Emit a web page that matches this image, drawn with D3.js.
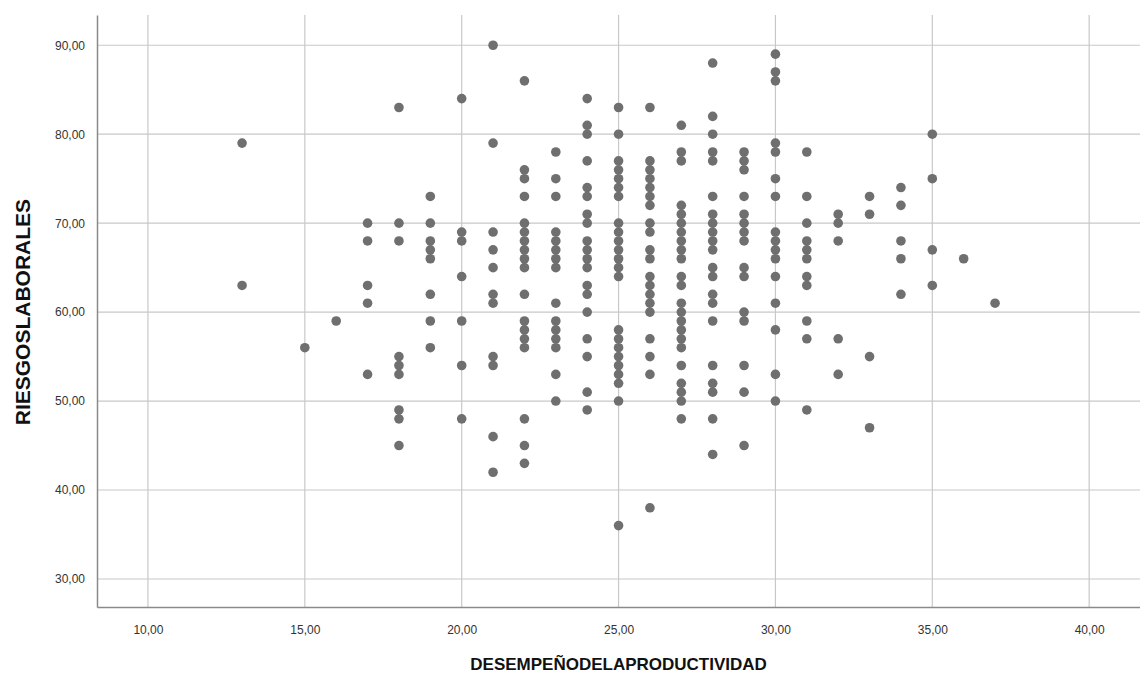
<!DOCTYPE html>
<html>
<head>
<meta charset="utf-8">
<script src="https://cdn.jsdelivr.net/npm/d3@7"></script>
<style>
  html, body { margin: 0; padding: 0; background: #ffffff; }
  svg { display: block; }
  text { font-family: "Liberation Sans", Arial, sans-serif; }
</style>
</head>
<body>
<svg id="chart" width="1140" height="679"></svg>
<script>
// ---- DATA ----
const xTitle = "DESEMPEÑODELAPRODUCTIVIDAD";
const yTitle = "RIESGOSLABORALES";
const xTicks = [10, 15, 20, 25, 30, 35, 40];
const yTicks = [30, 40, 50, 60, 70, 80, 90];

// DESEMPEÑODELAPRODUCTIVIDAD values (x) and the RIESGOSLABORALES values seen at each
const desempeno = [13, 15, 16, 17, 18, 19, 20, 21, 22, 23, 24, 25, 26, 27, 28, 29, 30, 31, 32, 33, 34, 35, 36, 37];
const riesgos13 = [79, 63];
const riesgos15 = [56];
const riesgos16 = [59];
const riesgos17 = [70, 68, 63, 61, 53];
const riesgos18 = [83, 70, 68, 55, 54, 53, 49, 48, 45];
const riesgos19 = [73, 70, 68, 67, 66, 62, 59, 56];
const riesgos20 = [84, 69, 68, 64, 59, 54, 48];
const riesgos21 = [90, 79, 69, 67, 65, 62, 61, 55, 54, 46, 42];
const riesgos22 = [86, 76, 75, 73, 70, 69, 68, 67, 66, 65, 62, 59, 58, 57, 56, 48, 45, 43];
const riesgos23 = [78, 75, 73, 69, 68, 67, 66, 65, 61, 59, 58, 57, 56, 53, 50];
const riesgos24 = [84, 81, 80, 77, 74, 73, 71, 70, 68, 67, 66, 65, 63, 62, 60, 57, 55, 51, 49];
const riesgos25 = [83, 80, 77, 76, 75, 74, 73, 70, 69, 68, 67, 66, 65, 64, 58, 57, 56, 55, 54, 53, 52, 50, 36];
const riesgos26 = [83, 77, 76, 75, 74, 73, 72, 70, 69, 67, 66, 64, 63, 62, 61, 60, 57, 55, 53, 38];
const riesgos27 = [81, 78, 77, 72, 71, 70, 69, 68, 67, 66, 64, 63, 61, 60, 59, 58, 57, 56, 54, 52, 51, 50, 48];
const riesgos28 = [88, 82, 80, 78, 77, 73, 71, 70, 69, 68, 67, 65, 64, 62, 61, 59, 54, 52, 51, 48, 44];
const riesgos29 = [78, 77, 76, 73, 71, 70, 69, 68, 65, 64, 60, 59, 54, 51, 45];
const riesgos30 = [89, 87, 86, 79, 78, 75, 73, 69, 68, 67, 66, 64, 61, 58, 53, 50];
const riesgos31 = [78, 73, 70, 68, 67, 66, 64, 63, 59, 57, 49];
const riesgos32 = [71, 70, 68, 57, 53];
const riesgos33 = [73, 71, 55, 47];
const riesgos34 = [74, 72, 68, 66, 62];
const riesgos35 = [80, 75, 67, 63];
const riesgos36 = [66];
const riesgos37 = [61];
const riesgosByX = [riesgos13, riesgos15, riesgos16, riesgos17, riesgos18, riesgos19, riesgos20,
  riesgos21, riesgos22, riesgos23, riesgos24, riesgos25, riesgos26, riesgos27, riesgos28,
  riesgos29, riesgos30, riesgos31, riesgos32, riesgos33, riesgos34, riesgos35, riesgos36, riesgos37];

// ---- BUILD POINTS ----
const points = [];
desempeno.forEach((xv, i) => riesgosByX[i].forEach(yv => points.push({x: xv, y: yv})));

// ---- LAYOUT ----
const svg = d3.select("#chart");
const plot = {left: 97, right: 1140, top: 15, bottom: 607};

const x = d3.scaleLinear().domain([8.376, 41.62]).range([plot.left, plot.right]);
const y = d3.scaleLinear().domain([26.85, 93.4]).range([plot.bottom, plot.top]);

const fmt = v => d3.format(".2f")(v).replace(".", ",");

// gridlines
svg.append("g").selectAll("line.gx").data(xTicks).join("line")
  .attr("x1", d => x(d)).attr("x2", d => x(d))
  .attr("y1", plot.top).attr("y2", plot.bottom)
  .attr("stroke", "#c8c8c8").attr("stroke-width", 1.2);
svg.append("g").selectAll("line.gy").data(yTicks).join("line")
  .attr("x1", plot.left).attr("x2", plot.right)
  .attr("y1", d => y(d)).attr("y2", d => y(d))
  .attr("stroke", "#c8c8c8").attr("stroke-width", 1.2);

// axes
const xAxis = d3.axisBottom(x).tickValues(xTicks).tickFormat(fmt).tickSize(0).tickPadding(18);
const yAxis = d3.axisLeft(y).tickValues(yTicks).tickFormat(fmt).tickSize(0).tickPadding(12);

const gx = svg.append("g").attr("transform", `translate(0,${plot.bottom})`).call(xAxis);
const gy = svg.append("g").attr("transform", `translate(${plot.left},0)`).call(yAxis);
[gx, gy].forEach(g => {
  g.select(".domain").attr("stroke", "#8a8a8a").attr("stroke-width", 1.5);
  g.selectAll("text").attr("fill", "#333333").style("font-size", "12px")
    .style("font-family", "'Liberation Sans', Arial, sans-serif");
});

// points
svg.append("g").selectAll("circle").data(points).join("circle")
  .attr("cx", d => x(d.x)).attr("cy", d => y(d.y))
  .attr("r", 4.8)
  .attr("fill", "#6f6f6f");

// titles
svg.append("text")
  .attr("x", x(25)).attr("y", 670)
  .attr("text-anchor", "middle")
  .style("font-size", "17px").style("font-weight", "bold").attr("fill", "#111")
  .text(xTitle);
svg.append("text")
  .attr("transform", `translate(30,${y(60)}) rotate(-90)`)
  .attr("text-anchor", "middle")
  .style("font-size", "21px").style("font-weight", "bold").attr("fill", "#111")
  .text(yTitle);
</script>
</body>
</html>
